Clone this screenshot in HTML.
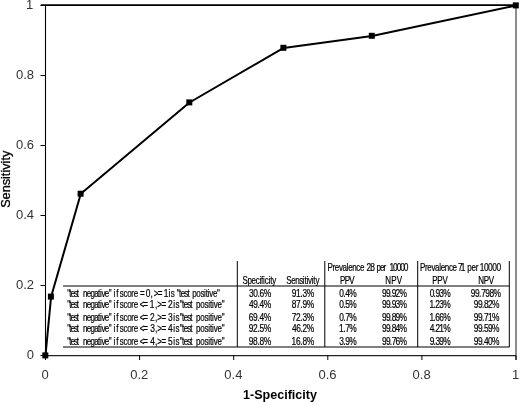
<!DOCTYPE html><html><head><meta charset="utf-8"><title>ROC curve</title>
<style>html,body{margin:0;padding:0;background:#fff}svg{display:block}text{font-family:"Liberation Sans",Arial,sans-serif}</style></head><body>
<svg width="520" height="402" viewBox="0 0 520 402">
<rect width="520" height="402" fill="#fff"/>
<line x1="516.0" y1="5.5" x2="516.0" y2="359.8" stroke="#666" stroke-width="1.5"/>
<line x1="40.8" y1="5.2" x2="516.0" y2="5.2" stroke="#000" stroke-width="1.8"/>
<line x1="45.5" y1="5.5" x2="45.5" y2="355.5" stroke="#000" stroke-width="1.1"/>
<line x1="45.5" y1="355.65" x2="516.0" y2="355.65" stroke="#222" stroke-width="1.2"/>
<line x1="40.5" y1="355.5" x2="45.5" y2="355.5" stroke="#000" stroke-width="1"/>
<line x1="45.5" y1="355.5" x2="45.5" y2="360.0" stroke="#000" stroke-width="1"/>
<text x="34" y="359.1" font-size="13" text-anchor="end" fill="#333">0</text>
<text x="45.2" y="378.6" font-size="13" text-anchor="middle" fill="#333">0</text>
<line x1="40.5" y1="285.5" x2="45.5" y2="285.5" stroke="#000" stroke-width="1"/>
<line x1="139.60000000000002" y1="355.5" x2="139.60000000000002" y2="360.0" stroke="#000" stroke-width="1"/>
<text x="34" y="289.1" font-size="13" text-anchor="end" fill="#333">0.2</text>
<text x="139.3" y="378.6" font-size="13" text-anchor="middle" fill="#333">0.2</text>
<line x1="40.5" y1="215.5" x2="45.5" y2="215.5" stroke="#000" stroke-width="1"/>
<line x1="233.70000000000002" y1="355.5" x2="233.70000000000002" y2="360.0" stroke="#000" stroke-width="1"/>
<text x="34" y="219.1" font-size="13" text-anchor="end" fill="#333">0.4</text>
<text x="233.4" y="378.6" font-size="13" text-anchor="middle" fill="#333">0.4</text>
<line x1="40.5" y1="145.5" x2="45.5" y2="145.5" stroke="#000" stroke-width="1"/>
<line x1="327.8" y1="355.5" x2="327.8" y2="360.0" stroke="#000" stroke-width="1"/>
<text x="34" y="149.1" font-size="13" text-anchor="end" fill="#333">0.6</text>
<text x="327.5" y="378.6" font-size="13" text-anchor="middle" fill="#333">0.6</text>
<line x1="40.5" y1="75.5" x2="45.5" y2="75.5" stroke="#000" stroke-width="1"/>
<line x1="421.90000000000003" y1="355.5" x2="421.90000000000003" y2="360.0" stroke="#000" stroke-width="1"/>
<text x="34" y="79.1" font-size="13" text-anchor="end" fill="#333">0.8</text>
<text x="421.6" y="378.6" font-size="13" text-anchor="middle" fill="#333">0.8</text>
<line x1="40.5" y1="5.5" x2="45.5" y2="5.5" stroke="#000" stroke-width="1"/>
<line x1="516.0" y1="355.5" x2="516.0" y2="360.0" stroke="#000" stroke-width="1"/>
<text x="33.2" y="9.1" font-size="13" text-anchor="end" fill="#333">1</text>
<text x="515.7" y="378.6" font-size="13" text-anchor="middle" fill="#333">1</text>
<polyline fill="none" stroke="#000" stroke-width="2" stroke-linejoin="round" points="45.5,355.5 51.1,296.7 80.8,193.8 189.5,102.5 283.6,47.9 372.0,35.9 516.0,5.5"/>
<rect x="42.3" y="352.4" width="6" height="6" fill="#000"/>
<rect x="47.9" y="293.6" width="6" height="6" fill="#000"/>
<rect x="77.6" y="190.7" width="6" height="6" fill="#000"/>
<rect x="186.3" y="99.4" width="6" height="6" fill="#000"/>
<rect x="280.4" y="44.8" width="6" height="6" fill="#000"/>
<rect x="368.8" y="32.8" width="6" height="6" fill="#000"/>
<rect x="512.8" y="2.4" width="6" height="6" fill="#000"/>
<text transform="translate(10.1,179.3) rotate(-90)" font-size="12.7" text-anchor="middle" fill="#000" stroke="#000" stroke-width="0.3">Sensitivity</text>
<text x="280" y="398.7" font-size="12.5" font-weight="bold" text-anchor="middle" fill="#000" textLength="74" lengthAdjust="spacingAndGlyphs">1-Specificity</text>
<g stroke="#000" stroke-width="1">
<line x1="63" y1="286" x2="509.5" y2="286"/>
<line x1="63" y1="347" x2="509.5" y2="347"/>
<line x1="237.3" y1="261" x2="237.3" y2="347"/>
<line x1="324.8" y1="261" x2="324.8" y2="347"/>
<line x1="417.7" y1="261" x2="417.7" y2="347"/>
<line x1="509.3" y1="261" x2="509.3" y2="347"/>
</g>
<text transform="scale(0.8,1)" y="284" font-size="10" fill="#000" stroke="#000" stroke-width="0.2" x="303.10 309.29 314.46 319.62 324.26 326.32 328.90 330.97 335.61 337.67 340.25">Specificity</text>
<text transform="scale(0.8,1)" y="284" font-size="10" fill="#000" stroke="#000" stroke-width="0.2" x="357.85 363.92 368.98 374.04 378.58 380.60 383.13 385.15 389.70 391.72 394.25">Sensitivity</text>
<text transform="scale(0.8,1)" y="284" font-size="10" fill="#000" stroke="#000" stroke-width="0.2" x="424.95 430.81 436.67">PPV</text>
<text transform="scale(0.8,1)" y="284" font-size="10" fill="#000" stroke="#000" stroke-width="0.2" x="481.70 489.03 495.80">NPV</text>
<text transform="scale(0.8,1)" y="284" font-size="10" fill="#000" stroke="#000" stroke-width="0.2" x="540.20 546.69 553.17">PPV</text>
<text transform="scale(0.8,1)" y="284" font-size="10" fill="#000" stroke="#000" stroke-width="0.2" x="597.95 604.76 611.05">NPV</text>
<text transform="scale(0.8,1)" y="271" font-size="10" fill="#000" stroke="#000" stroke-width="0.2" x="409.45 415.52 418.55 423.61 428.17 433.23 435.25 440.31 445.37 449.92">Prevalence</text>
<text transform="scale(0.84,1)" y="271" font-size="10" fill="#000" stroke="#000" stroke-width="0.2" x="436.29 440.75">28</text>
<text transform="scale(0.8,1)" y="271" font-size="10" fill="#000" stroke="#000" stroke-width="0.2" x="470.52 474.91 479.30">per</text>
<text transform="scale(0.84,1)" y="271" font-size="10" fill="#000" stroke="#000" stroke-width="0.2" x="463.70 467.97 472.23 476.49 480.75">10000</text>
<text transform="scale(0.8,1)" y="271" font-size="10" fill="#000" stroke="#000" stroke-width="0.2" x="525.07 531.16 534.21 539.28 543.85 548.93 550.95 556.03 561.11 565.67">Prevalence</text>
<text transform="scale(0.84,1)" y="271" font-size="10" fill="#000" stroke="#000" stroke-width="0.2" x="545.21 548.47">71</text>
<text transform="scale(0.8,1)" y="271" font-size="10" fill="#000" stroke="#000" stroke-width="0.2" x="584.15 589.47 594.80">per</text>
<text transform="scale(0.84,1)" y="271" font-size="10" fill="#000" stroke="#000" stroke-width="0.2" x="571.09 576.09 581.10 586.10 591.11">10000</text>
<text transform="scale(0.8,1)" y="296.9" font-size="10" fill="#000" stroke="#000" stroke-width="0.2" x="84.10 86.59 88.54 92.44 95.95">&quot;test</text>
<text transform="scale(0.8,1)" y="296.9" font-size="10" fill="#000" stroke="#000" stroke-width="0.2" x="103.77 108.49 113.20 117.91 122.62 124.97 126.85 131.09 135.80">negative&quot;</text>
<text transform="scale(0.8,1)" y="296.9" font-size="10" fill="#000" stroke="#000" stroke-width="0.2" x="141.90 145.32">if</text>
<text transform="scale(0.8,1)" y="296.9" font-size="10" fill="#000" stroke="#000" stroke-width="0.2" x="149.55 154.25 158.95 164.17 167.30">score</text>
<text transform="scale(0.8,1)" y="296.9" font-size="10" fill="#000" stroke="#000" stroke-width="0.2" x="175.10">=</text>
<text transform="scale(0.84,1)" y="296.9" font-size="10" fill="#000" stroke="#000" stroke-width="0.2" x="173.51 179.17">0,</text>
<text transform="scale(0.8,1)" y="296.9" font-size="10" fill="#000" stroke="#000" stroke-width="0.2" x="192.10 197.22">&gt;=</text>
<text transform="scale(0.84,1)" y="296.9" font-size="10" fill="#000" stroke="#000" stroke-width="0.2" x="194.90">1</text>
<text transform="scale(0.8,1)" y="296.9" font-size="10" fill="#000" stroke="#000" stroke-width="0.2" x="210.53 213.30">is</text>
<text transform="scale(0.8,1)" y="296.9" font-size="10" fill="#000" stroke="#000" stroke-width="0.2" x="220.85 223.71 225.95 230.42 234.45">&quot;test</text>
<text transform="scale(0.8,1)" y="296.9" font-size="10" fill="#000" stroke="#000" stroke-width="0.2" x="240.40 245.45 250.50 255.03 257.05 259.57 261.59 266.13 271.17">positive&quot;</text>
<text transform="scale(0.84,1)" y="296.9" font-size="10" fill="#000" stroke="#000" stroke-width="0.2" x="296.37 301.41 306.46 308.97 314.02">30.6%</text>
<text transform="scale(0.84,1)" y="296.9" font-size="10" fill="#000" stroke="#000" stroke-width="0.2" x="347.46 352.53 357.60 360.14 365.21">91.3%</text>
<text transform="scale(0.84,1)" y="296.9" font-size="10" fill="#000" stroke="#000" stroke-width="0.2" x="403.99 408.76 411.15 415.92">0.4%</text>
<text transform="scale(0.84,1)" y="296.9" font-size="10" fill="#000" stroke="#000" stroke-width="0.2" x="454.84 459.42 464.00 466.29 470.87 475.45">99.92%</text>
<text transform="scale(0.84,1)" y="296.9" font-size="10" fill="#000" stroke="#000" stroke-width="0.2" x="511.60 516.17 518.45 523.02 527.59">0.93%</text>
<text transform="scale(0.84,1)" y="296.9" font-size="10" fill="#000" stroke="#000" stroke-width="0.2" x="560.55 565.47 570.39 572.84 577.76 582.67 587.59">99.798%</text>
<text transform="scale(0.8,1)" y="308.1" font-size="10" fill="#000" stroke="#000" stroke-width="0.2" x="84.10 86.59 88.54 92.44 95.95">&quot;test</text>
<text transform="scale(0.8,1)" y="308.1" font-size="10" fill="#000" stroke="#000" stroke-width="0.2" x="103.77 108.49 113.20 117.91 122.62 124.97 126.85 131.09 135.80">negative&quot;</text>
<text transform="scale(0.8,1)" y="308.1" font-size="10" fill="#000" stroke="#000" stroke-width="0.2" x="141.90 145.32">if</text>
<text transform="scale(0.8,1)" y="308.1" font-size="10" fill="#000" stroke="#000" stroke-width="0.2" x="149.55 154.25 158.95 164.17 167.30">score</text>
<text transform="scale(0.8,1)" y="308.1" font-size="10" fill="#000" stroke="#000" stroke-width="0.2" x="174.60 178.97">&lt;=</text>
<text transform="scale(0.84,1)" y="308.1" font-size="10" fill="#000" stroke="#000" stroke-width="0.2" x="178.35 184.65">1,</text>
<text transform="scale(0.8,1)" y="308.1" font-size="10" fill="#000" stroke="#000" stroke-width="0.2" x="196.60 201.85">&gt;=</text>
<text transform="scale(0.84,1)" y="308.1" font-size="10" fill="#000" stroke="#000" stroke-width="0.2" x="200.00">2</text>
<text transform="scale(0.8,1)" y="308.1" font-size="10" fill="#000" stroke="#000" stroke-width="0.2" x="216.52 219.30">is</text>
<text transform="scale(0.8,1)" y="308.1" font-size="10" fill="#000" stroke="#000" stroke-width="0.2" x="224.60 227.38 229.56 233.91 237.82">&quot;test</text>
<text transform="scale(0.8,1)" y="308.1" font-size="10" fill="#000" stroke="#000" stroke-width="0.2" x="245.03 250.28 255.53 260.25 262.35 264.98 267.07 271.80 277.05">positive&quot;</text>
<text transform="scale(0.84,1)" y="308.1" font-size="10" fill="#000" stroke="#000" stroke-width="0.2" x="296.47 301.48 306.50 309.00 314.02">49.4%</text>
<text transform="scale(0.84,1)" y="308.1" font-size="10" fill="#000" stroke="#000" stroke-width="0.2" x="347.46 352.53 357.60 360.14 365.21">87.9%</text>
<text transform="scale(0.84,1)" y="308.1" font-size="10" fill="#000" stroke="#000" stroke-width="0.2" x="403.99 408.76 411.15 415.92">0.5%</text>
<text transform="scale(0.84,1)" y="308.1" font-size="10" fill="#000" stroke="#000" stroke-width="0.2" x="454.84 459.42 464.00 466.29 470.87 475.45">99.93%</text>
<text transform="scale(0.84,1)" y="308.1" font-size="10" fill="#000" stroke="#000" stroke-width="0.2" x="511.20 515.89 518.23 522.91 527.59">1.23%</text>
<text transform="scale(0.84,1)" y="308.1" font-size="10" fill="#000" stroke="#000" stroke-width="0.2" x="564.12 568.92 573.71 576.10 580.89 585.69">99.82%</text>
<text transform="scale(0.8,1)" y="320.9" font-size="10" fill="#000" stroke="#000" stroke-width="0.2" x="84.10 86.59 88.54 92.44 95.95">&quot;test</text>
<text transform="scale(0.8,1)" y="320.9" font-size="10" fill="#000" stroke="#000" stroke-width="0.2" x="103.77 108.49 113.20 117.91 122.62 124.97 126.85 131.09 135.80">negative&quot;</text>
<text transform="scale(0.8,1)" y="320.9" font-size="10" fill="#000" stroke="#000" stroke-width="0.2" x="141.90 145.32">if</text>
<text transform="scale(0.8,1)" y="320.9" font-size="10" fill="#000" stroke="#000" stroke-width="0.2" x="149.55 154.25 158.95 164.17 167.30">score</text>
<text transform="scale(0.8,1)" y="320.9" font-size="10" fill="#000" stroke="#000" stroke-width="0.2" x="174.60 178.97">&lt;=</text>
<text transform="scale(0.84,1)" y="320.9" font-size="10" fill="#000" stroke="#000" stroke-width="0.2" x="178.55 184.65">2,</text>
<text transform="scale(0.8,1)" y="320.9" font-size="10" fill="#000" stroke="#000" stroke-width="0.2" x="196.60 201.85">&gt;=</text>
<text transform="scale(0.84,1)" y="320.9" font-size="10" fill="#000" stroke="#000" stroke-width="0.2" x="200.05">3</text>
<text transform="scale(0.8,1)" y="320.9" font-size="10" fill="#000" stroke="#000" stroke-width="0.2" x="216.52 219.30">is</text>
<text transform="scale(0.8,1)" y="320.9" font-size="10" fill="#000" stroke="#000" stroke-width="0.2" x="224.60 227.38 229.56 233.91 237.82">&quot;test</text>
<text transform="scale(0.8,1)" y="320.9" font-size="10" fill="#000" stroke="#000" stroke-width="0.2" x="245.03 250.28 255.53 260.25 262.35 264.98 267.07 271.80 277.05">positive&quot;</text>
<text transform="scale(0.84,1)" y="320.9" font-size="10" fill="#000" stroke="#000" stroke-width="0.2" x="296.17 301.27 306.37 308.92 314.02">69.4%</text>
<text transform="scale(0.84,1)" y="320.9" font-size="10" fill="#000" stroke="#000" stroke-width="0.2" x="347.36 352.46 357.56 360.11 365.21">72.3%</text>
<text transform="scale(0.84,1)" y="320.9" font-size="10" fill="#000" stroke="#000" stroke-width="0.2" x="403.99 408.76 411.15 415.92">0.7%</text>
<text transform="scale(0.84,1)" y="320.9" font-size="10" fill="#000" stroke="#000" stroke-width="0.2" x="454.84 459.42 464.00 466.29 470.87 475.45">99.89%</text>
<text transform="scale(0.84,1)" y="320.9" font-size="10" fill="#000" stroke="#000" stroke-width="0.2" x="511.20 515.89 518.23 522.91 527.59">1.66%</text>
<text transform="scale(0.84,1)" y="320.9" font-size="10" fill="#000" stroke="#000" stroke-width="0.2" x="564.12 568.92 573.71 576.10 580.89 585.69">99.71%</text>
<text transform="scale(0.8,1)" y="332.0" font-size="10" fill="#000" stroke="#000" stroke-width="0.2" x="84.10 86.59 88.54 92.44 95.95">&quot;test</text>
<text transform="scale(0.8,1)" y="332.0" font-size="10" fill="#000" stroke="#000" stroke-width="0.2" x="103.77 108.49 113.20 117.91 122.62 124.97 126.85 131.09 135.80">negative&quot;</text>
<text transform="scale(0.8,1)" y="332.0" font-size="10" fill="#000" stroke="#000" stroke-width="0.2" x="141.90 145.32">if</text>
<text transform="scale(0.8,1)" y="332.0" font-size="10" fill="#000" stroke="#000" stroke-width="0.2" x="149.55 154.25 158.95 164.17 167.30">score</text>
<text transform="scale(0.8,1)" y="332.0" font-size="10" fill="#000" stroke="#000" stroke-width="0.2" x="174.60 178.97">&lt;=</text>
<text transform="scale(0.84,1)" y="332.0" font-size="10" fill="#000" stroke="#000" stroke-width="0.2" x="178.75 184.65">3,</text>
<text transform="scale(0.8,1)" y="332.0" font-size="10" fill="#000" stroke="#000" stroke-width="0.2" x="196.60 201.85">&gt;=</text>
<text transform="scale(0.84,1)" y="332.0" font-size="10" fill="#000" stroke="#000" stroke-width="0.2" x="200.05">4</text>
<text transform="scale(0.8,1)" y="332.0" font-size="10" fill="#000" stroke="#000" stroke-width="0.2" x="216.52 219.30">is</text>
<text transform="scale(0.8,1)" y="332.0" font-size="10" fill="#000" stroke="#000" stroke-width="0.2" x="224.60 227.38 229.56 233.91 237.82">&quot;test</text>
<text transform="scale(0.8,1)" y="332.0" font-size="10" fill="#000" stroke="#000" stroke-width="0.2" x="245.03 250.28 255.53 260.25 262.35 264.98 267.07 271.80 277.05">positive&quot;</text>
<text transform="scale(0.84,1)" y="332.0" font-size="10" fill="#000" stroke="#000" stroke-width="0.2" x="296.27 301.34 306.41 308.95 314.02">92.5%</text>
<text transform="scale(0.84,1)" y="332.0" font-size="10" fill="#000" stroke="#000" stroke-width="0.2" x="347.66 352.67 357.69 360.19 365.21">46.2%</text>
<text transform="scale(0.84,1)" y="332.0" font-size="10" fill="#000" stroke="#000" stroke-width="0.2" x="403.59 408.52 410.99 415.92">1.7%</text>
<text transform="scale(0.84,1)" y="332.0" font-size="10" fill="#000" stroke="#000" stroke-width="0.2" x="454.84 459.42 464.00 466.29 470.87 475.45">99.84%</text>
<text transform="scale(0.84,1)" y="332.0" font-size="10" fill="#000" stroke="#000" stroke-width="0.2" x="511.70 516.24 518.51 523.05 527.59">4.21%</text>
<text transform="scale(0.84,1)" y="332.0" font-size="10" fill="#000" stroke="#000" stroke-width="0.2" x="564.12 568.92 573.71 576.10 580.89 585.69">99.59%</text>
<text transform="scale(0.8,1)" y="344.6" font-size="10" fill="#000" stroke="#000" stroke-width="0.2" x="84.10 86.59 88.54 92.44 95.95">&quot;test</text>
<text transform="scale(0.8,1)" y="344.6" font-size="10" fill="#000" stroke="#000" stroke-width="0.2" x="103.77 108.49 113.20 117.91 122.62 124.97 126.85 131.09 135.80">negative&quot;</text>
<text transform="scale(0.8,1)" y="344.6" font-size="10" fill="#000" stroke="#000" stroke-width="0.2" x="141.90 145.32">if</text>
<text transform="scale(0.8,1)" y="344.6" font-size="10" fill="#000" stroke="#000" stroke-width="0.2" x="149.55 154.25 158.95 164.17 167.30">score</text>
<text transform="scale(0.8,1)" y="344.6" font-size="10" fill="#000" stroke="#000" stroke-width="0.2" x="174.60 178.97">&lt;=</text>
<text transform="scale(0.84,1)" y="344.6" font-size="10" fill="#000" stroke="#000" stroke-width="0.2" x="178.85 184.65">4,</text>
<text transform="scale(0.8,1)" y="344.6" font-size="10" fill="#000" stroke="#000" stroke-width="0.2" x="196.60 201.85">&gt;=</text>
<text transform="scale(0.84,1)" y="344.6" font-size="10" fill="#000" stroke="#000" stroke-width="0.2" x="200.00">5</text>
<text transform="scale(0.8,1)" y="344.6" font-size="10" fill="#000" stroke="#000" stroke-width="0.2" x="216.52 219.30">is</text>
<text transform="scale(0.8,1)" y="344.6" font-size="10" fill="#000" stroke="#000" stroke-width="0.2" x="224.60 227.38 229.56 233.91 237.82">&quot;test</text>
<text transform="scale(0.8,1)" y="344.6" font-size="10" fill="#000" stroke="#000" stroke-width="0.2" x="245.03 250.28 255.53 260.25 262.35 264.98 267.07 271.80 277.05">positive&quot;</text>
<text transform="scale(0.84,1)" y="344.6" font-size="10" fill="#000" stroke="#000" stroke-width="0.2" x="296.27 301.34 306.41 308.95 314.02">98.8%</text>
<text transform="scale(0.84,1)" y="344.6" font-size="10" fill="#000" stroke="#000" stroke-width="0.2" x="347.16 352.32 357.47 360.05 365.21">16.8%</text>
<text transform="scale(0.84,1)" y="344.6" font-size="10" fill="#000" stroke="#000" stroke-width="0.2" x="403.99 408.76 411.15 415.92">3.9%</text>
<text transform="scale(0.84,1)" y="344.6" font-size="10" fill="#000" stroke="#000" stroke-width="0.2" x="454.84 459.42 464.00 466.29 470.87 475.45">99.76%</text>
<text transform="scale(0.84,1)" y="344.6" font-size="10" fill="#000" stroke="#000" stroke-width="0.2" x="511.50 516.10 518.40 522.99 527.59">9.39%</text>
<text transform="scale(0.84,1)" y="344.6" font-size="10" fill="#000" stroke="#000" stroke-width="0.2" x="564.12 568.92 573.71 576.10 580.89 585.69">99.40%</text>
</svg></body></html>
